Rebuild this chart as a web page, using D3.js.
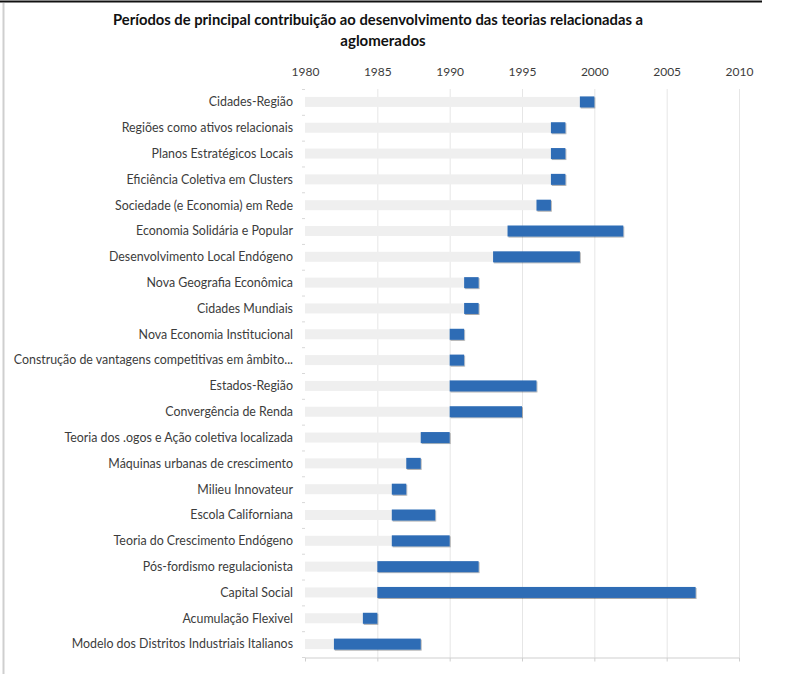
<!DOCTYPE html>
<html>
  <head>
    <meta charset="utf-8">
    <title>Períodos de principal contribuição</title>
    <script src="https://cdn.jsdelivr.net/npm/d3@7"></script>
    <style>
      body { margin: 0; background: #fff; }
      svg { display: block; }
      .label { font-family: Lato, "Open Sans", sans-serif; font-size: 12.4px; fill: #3c3c3c; }
      .tick text { font-family: Lato, "Open Sans", sans-serif; font-size: 12px; fill: #3c3c3c; }
      #title { font-family: Lato, "Open Sans", sans-serif; font-weight: bold; font-size: 15px; fill: #111; }
    </style>
  </head>

  <body>
    <svg id="chart" width="801" height="674"></svg>

    <script>
      // data (years)
      categories = [
        "Cidades-Região",
        "Regiões como ativos relacionais",
        "Planos Estratégicos Locais",
        "Eficiência Coletiva em Clusters",
        "Sociedade (e Economia) em Rede",
        "Economia Solidária e Popular",
        "Desenvolvimento Local Endógeno",
        "Nova Geografia Econômica",
        "Cidades Mundiais",
        "Nova Economia Institucional",
        "Construção de vantagens competitivas em âmbito...",
        "Estados-Região",
        "Convergência de Renda",
        "Teoria dos .ogos e Ação coletiva localizada",
        "Máquinas urbanas de crescimento",
        "Milieu Innovateur",
        "Escola Californiana",
        "Teoria do Crescimento Endógeno",
        "Pós-fordismo regulacionista",
        "Capital Social",
        "Acumulação Flexivel",
        "Modelo dos Distritos Industriais Italianos"
      ];
      starts = [1999, 1997, 1997, 1997, 1996, 1994, 1993, 1991, 1991, 1990, 1990,
                1990, 1990, 1988, 1987, 1986, 1986, 1986, 1985, 1985, 1984, 1982];
      ends   = [2000, 1998, 1998, 1998, 1997, 2002, 1999, 1992, 1992, 1991, 1991,
                1996, 1995, 1990, 1988, 1987, 1989, 1990, 1992, 2007, 1985, 1988];
      yearTicks = [1980, 1985, 1990, 1995, 2000, 2005, 2010];

      rows = categories.map(function(d, i) {
        return { name: d, start: starts[i], end: ends[i] };
      });

      svg = d3.select("#chart");

      // frame
      svg.append("line")
        .attr("x1", 0).attr("x2", 762).attr("y1", 1.5).attr("y2", 1.5)
        .attr("stroke", "#111").attr("stroke-width", 2);
      svg.append("line")
        .attr("x1", 3.5).attr("x2", 3.5).attr("y1", 3).attr("y2", 674)
        .attr("stroke", "#cfcfcf").attr("stroke-width", 2);

      // shadow for the blue bars
      filter = svg.append("defs").append("filter")
        .attr("id", "shadow")
        .attr("x", "-5%").attr("y", "-20%")
        .attr("width", "115%").attr("height", "160%");
      filter.append("feDropShadow")
        .attr("dx", 0.8).attr("dy", 1)
        .attr("stdDeviation", 0.7)
        .attr("flood-color", "#000")
        .attr("flood-opacity", 0.35);

      // scales
      x = d3.scaleLinear()
        .domain([1980, 2010])
        .range([305, 739]);
      y = d3.scaleBand()
        .domain(categories)
        .range([89, 657])
        .paddingInner(0)
        .paddingOuter(0);

      // title
      title = svg.append("text")
        .attr("id", "title")
        .attr("text-anchor", "middle");
      title.append("tspan")
        .attr("x", 378).attr("y", 25)
        .attr("textLength", 530)
        .attr("lengthAdjust", "spacingAndGlyphs")
        .text("Períodos de principal contribuição ao desenvolvimento das teorias relacionadas  a");
      title.append("tspan")
        .attr("x", 383).attr("y", 46)
        .text("aglomerados");

      // vertical gridlines
      svg.append("g")
        .selectAll("line")
          .data(yearTicks.slice(1))
        .enter().append("line")
          .attr("x1", function(d) { return x(d) + 0.5; })
          .attr("x2", function(d) { return x(d) + 0.5; })
          .attr("y1", 89)
          .attr("y2", 657)
          .attr("stroke", "#e6e6e6");

      // top axis labels
      topAxis = svg.append("g")
        .attr("transform", "translate(0,76)")
        .call(d3.axisTop(x).tickValues(yearTicks).tickFormat(d3.format("d")).tickSize(0).tickPadding(0));
      topAxis.select(".domain").remove();

      // bottom axis line with ticks
      bottomAxis = svg.append("g")
        .attr("transform", "translate(0,657.5)")
        .call(d3.axisBottom(x).tickValues(yearTicks).tickFormat("").tickSize(4).tickSizeOuter(0));
      bottomAxis.selectAll("line, path").attr("stroke", "#cfcfcf");

      // little category ticks on the left
      svg.append("g")
        .selectAll("line")
          .data(categories.concat(["end"]))
        .enter().append("line")
          .attr("x1", 302).attr("x2", 305)
          .attr("y1", function(d, i) { return 89 + i * y.step() + 0.5; })
          .attr("y2", function(d, i) { return 89 + i * y.step() + 0.5; })
          .attr("stroke", "#d8d8d8");

      // category labels
      svg.append("g")
        .selectAll("text")
          .data(rows)
        .enter().append("text")
          .attr("class", "label")
          .attr("x", 293)
          .attr("y", function(d) { return y(d.name) + y.bandwidth() / 2; })
          .attr("dy", "0.35em")
          .attr("text-anchor", "end")
          .text(function(d) { return d.name; });

      // grey lead bars (1980 -> start)
      svg.append("g")
        .selectAll("rect")
          .data(rows)
        .enter().append("rect")
          .attr("x", x(1980))
          .attr("y", function(d) { return y(d.name) + y.bandwidth() / 2 - 5; })
          .attr("width", function(d) { return x(d.start) - x(1980); })
          .attr("height", 10)
          .attr("fill", "#efefef");

      // blue period bars
      svg.append("g")
        .selectAll("rect")
          .data(rows)
        .enter().append("rect")
          .attr("x", function(d) { return x(d.start); })
          .attr("y", function(d) { return y(d.name) + y.bandwidth() / 2 - 5.5; })
          .attr("width", function(d) { return x(d.end) - x(d.start); })
          .attr("height", 11)
          .attr("fill", "#2f6cb5")
          .attr("filter", "url(#shadow)");
    </script>
  </body>
</html>
